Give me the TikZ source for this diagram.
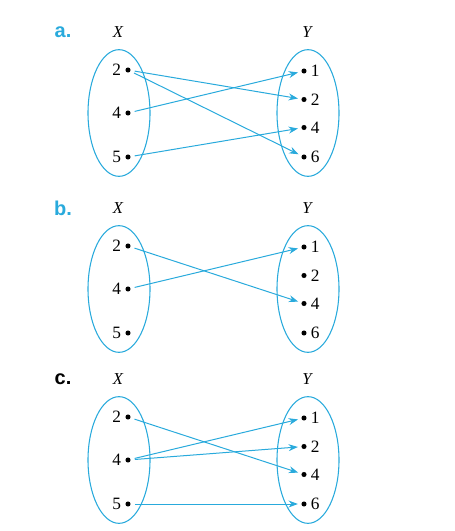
\documentclass[tikz,border=0pt]{standalone}
\usepackage{fontspec}
\setmainfont{Liberation Serif}
\newfontfamily\labfont{Liberation Sans}
\usetikzlibrary{arrows.meta,shapes.geometric}
\definecolor{cy}{RGB}{41,170,220}
\begin{document}
\begin{tikzpicture}[x=0.75pt,y=-0.75pt,
  dotn/.style={circle,fill=black,inner sep=0pt,minimum size=3.8pt},
  setell/.style={ellipse,draw=cy,line width=0.8pt,inner sep=0pt,minimum width=46.5pt,minimum height=95pt},
  arr/.style={cy,line width=0.75pt,-{Stealth[length=7pt,width=5.2pt]},shorten <=3pt,shorten >=2.5pt},
  num/.style={font=\fontsize{13}{15}\selectfont},
  head/.style={font=\fontsize{12.5}{15}\selectfont\itshape},
  tag/.style={font=\fontsize{15}{17}\labfont\bfseries}]
\useasboundingbox (0,0) rectangle (454,531);
\newcommand\drawpanel[2]{%
  \node[tag,text=#2] (tag) at (63,-81) {#1};
  \node[head] (X) at (118,-81) {X};
  \node[head] (Y) at (307,-81) {Y};
  \node[setell] (L) at (119,0) {};
  \node[setell] (R) at (308,0) {};
  \node[dotn,label={[num,label distance=-0.5pt]left:2}] (l2) at (128,-43) {};
  \node[dotn,label={[num,label distance=-0.5pt]left:4}] (l4) at (128,0) {};
  \node[dotn,label={[num,label distance=-0.5pt]left:5}] (l5) at (128,44) {};
  \node[dotn,label={[num,label distance=-0.5pt]right:1}] (r1) at (304,-42) {};
  \node[dotn,label={[num,label distance=-0.5pt]right:2}] (r2) at (304,-13.5) {};
  \node[dotn,label={[num,label distance=-0.5pt]right:4}] (r4) at (304,14.5) {};
  \node[dotn,label={[num,label distance=-0.5pt]right:6}] (r6) at (304,44) {};
}
\begin{scope}[shift={(0,113)},name prefix=a-]
  \drawpanel{a.}{cy}
  \draw[arr] (l2) -- (r2);
  \draw[arr] (l2) -- (r6);
  \draw[arr] (l4) -- (r1);
  \draw[arr] (l5) -- (r4);
\end{scope}
\begin{scope}[shift={(0,289)},name prefix=b-]
  \drawpanel{b.}{cy}
  \draw[arr] (l2) -- (r4);
  \draw[arr] (l4) -- (r1);
\end{scope}
\begin{scope}[shift={(0,460)},name prefix=c-]
  \drawpanel{c.}{black}
  \draw[arr] (l2) -- (r4);
  \draw[arr] (l4) -- (r1);
  \draw[arr] (l4) -- (r2);
  \draw[arr] (l5) -- (r6);
\end{scope}
\end{tikzpicture}
\end{document}
